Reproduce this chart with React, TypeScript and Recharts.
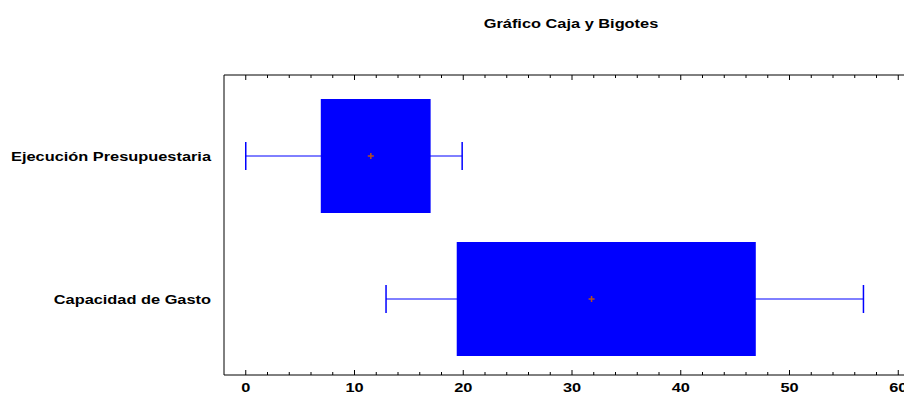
import React from 'react';
import { ComposedChart, Bar, XAxis, YAxis } from 'recharts';

// Box and whisker values
const categories = ['Ejecución Presupuestaria', 'Capacidad de Gasto'];
const minimums = [0, 12.9];
const lowerQuartiles = [6.9, 19.4];
const upperQuartiles = [17, 46.9];
const maximums = [19.9, 56.8];
const means = [11.5, 31.8];

const xTicks = [0, 2, 4, 6, 8, 10, 12, 14, 16, 18, 20, 22, 24, 26, 28, 30, 32, 34, 36, 38, 40, 42, 44, 46, 48, 50, 52, 54, 56, 58, 60];
const majorTicks = [0, 10, 20, 30, 40, 50, 60];

const BOX_BLUE = '#0000ff';
const MEAN_RED = '#b4501e';
const FONT = '"Liberation Sans", Arial, sans-serif';
const STRETCH = 1.26;

const data = categories.map((name, i) => ({
  name,
  range: [minimums[i], maximums[i]],
  min: minimums[i],
  q1: lowerQuartiles[i],
  q3: upperQuartiles[i],
  max: maximums[i],
  mean: means[i],
}));

function BoxShape(props: any) {
  const { x, y, width, height, payload } = props;
  const { min, max, q1, q3, mean } = payload;
  const left = Math.min(x, x + width);
  const w = Math.abs(width);
  const px = (v: number) => left + ((v - min) / (max - min)) * w;
  const cy = y + height / 2;
  const cap = 14;
  const mx = px(mean);
  return (
    <g>
      <line x1={px(min)} x2={px(max)} y1={cy} y2={cy} stroke={BOX_BLUE} strokeWidth={1} />
      <line x1={px(min)} x2={px(min)} y1={cy - cap} y2={cy + cap} stroke={BOX_BLUE} strokeWidth={1.5} />
      <line x1={px(max)} x2={px(max)} y1={cy - cap} y2={cy + cap} stroke={BOX_BLUE} strokeWidth={1.5} />
      <rect x={px(q1)} y={y} width={px(q3) - px(q1)} height={height} fill={BOX_BLUE} />
      <line x1={mx - 3} x2={mx + 3} y1={cy} y2={cy} stroke={MEAN_RED} strokeWidth={1.5} />
      <line x1={mx} x2={mx} y1={cy - 3} y2={cy + 3} stroke={MEAN_RED} strokeWidth={1.5} />
    </g>
  );
}

function BottomTick(props: any) {
  const { x, y, payload } = props;
  const major = majorTicks.includes(payload.value);
  return (
    <g>
      <line x1={x} x2={x} y1={y} y2={y - (major ? 5 : 3)} stroke="#000" />
      {major && (
        <text
          transform={`translate(${x},${y + 17}) scale(${STRETCH},1)`}
          textAnchor="middle"
          fontFamily={FONT}
          fontWeight="bold"
          fontSize={13}
          fill="#000"
        >
          {payload.value}
        </text>
      )}
    </g>
  );
}

function TopTick(props: any) {
  const { x, y, payload } = props;
  const major = majorTicks.includes(payload.value);
  return <line x1={x} x2={x} y1={y} y2={y + (major ? 5 : 3)} stroke="#000" />;
}

function CategoryTick(props: any) {
  const { x, y, payload } = props;
  return (
    <text
      transform={`translate(${x - 13},${y + 5}) scale(${STRETCH},1)`}
      textAnchor="end"
      fontFamily={FONT}
      fontWeight="bold"
      fontSize={13}
      fill="#000"
    >
      {payload.value}
    </text>
  );
}

export default function App() {
  return (
    <div style={{ position: 'absolute', left: 0, top: 0, width: 904, height: 394, overflow: 'hidden', background: '#fff' }}>
      <svg width={904} height={45} style={{ position: 'absolute', left: 0, top: 0 }}>
        <text
          transform={`translate(571,28) scale(${STRETCH},1)`}
          textAnchor="middle"
          fontFamily={FONT}
          fontWeight="bold"
          fontSize={13}
          fill="#000"
        >
          Gráfico Caja y Bigotes
        </text>
      </svg>
      <div style={{ position: 'absolute', left: 0, top: 0 }}>
        <ComposedChart
          width={930}
          height={405}
          data={data}
          layout="vertical"
          margin={{ top: 45, right: 10, bottom: 0, left: 0 }}
        >
          <XAxis
            type="number"
            domain={[-2, 62]}
            ticks={xTicks}
            interval={0}
            allowDataOverflow
            axisLine={{ stroke: '#000' }}
            tickLine={false}
            tickSize={0}
            tickMargin={0}
            height={30}
            tick={<BottomTick />}
          />
          <XAxis
            xAxisId="top"
            orientation="top"
            type="number"
            domain={[-2, 62]}
            ticks={xTicks}
            interval={0}
            allowDataOverflow
            axisLine={{ stroke: '#000' }}
            tickLine={false}
            tickSize={0}
            tickMargin={0}
            height={30}
            tick={<TopTick />}
          />
          <YAxis
            type="category"
            dataKey="name"
            width={224}
            padding={{ top: 9, bottom: 5 }}
            axisLine={{ stroke: '#000' }}
            tickLine={false}
            tickSize={0}
            tickMargin={0}
            tick={<CategoryTick />}
          />
          <Bar dataKey="range" barSize={114} shape={<BoxShape />} isAnimationActive={false} />
        </ComposedChart>
      </div>
    </div>
  );
}
